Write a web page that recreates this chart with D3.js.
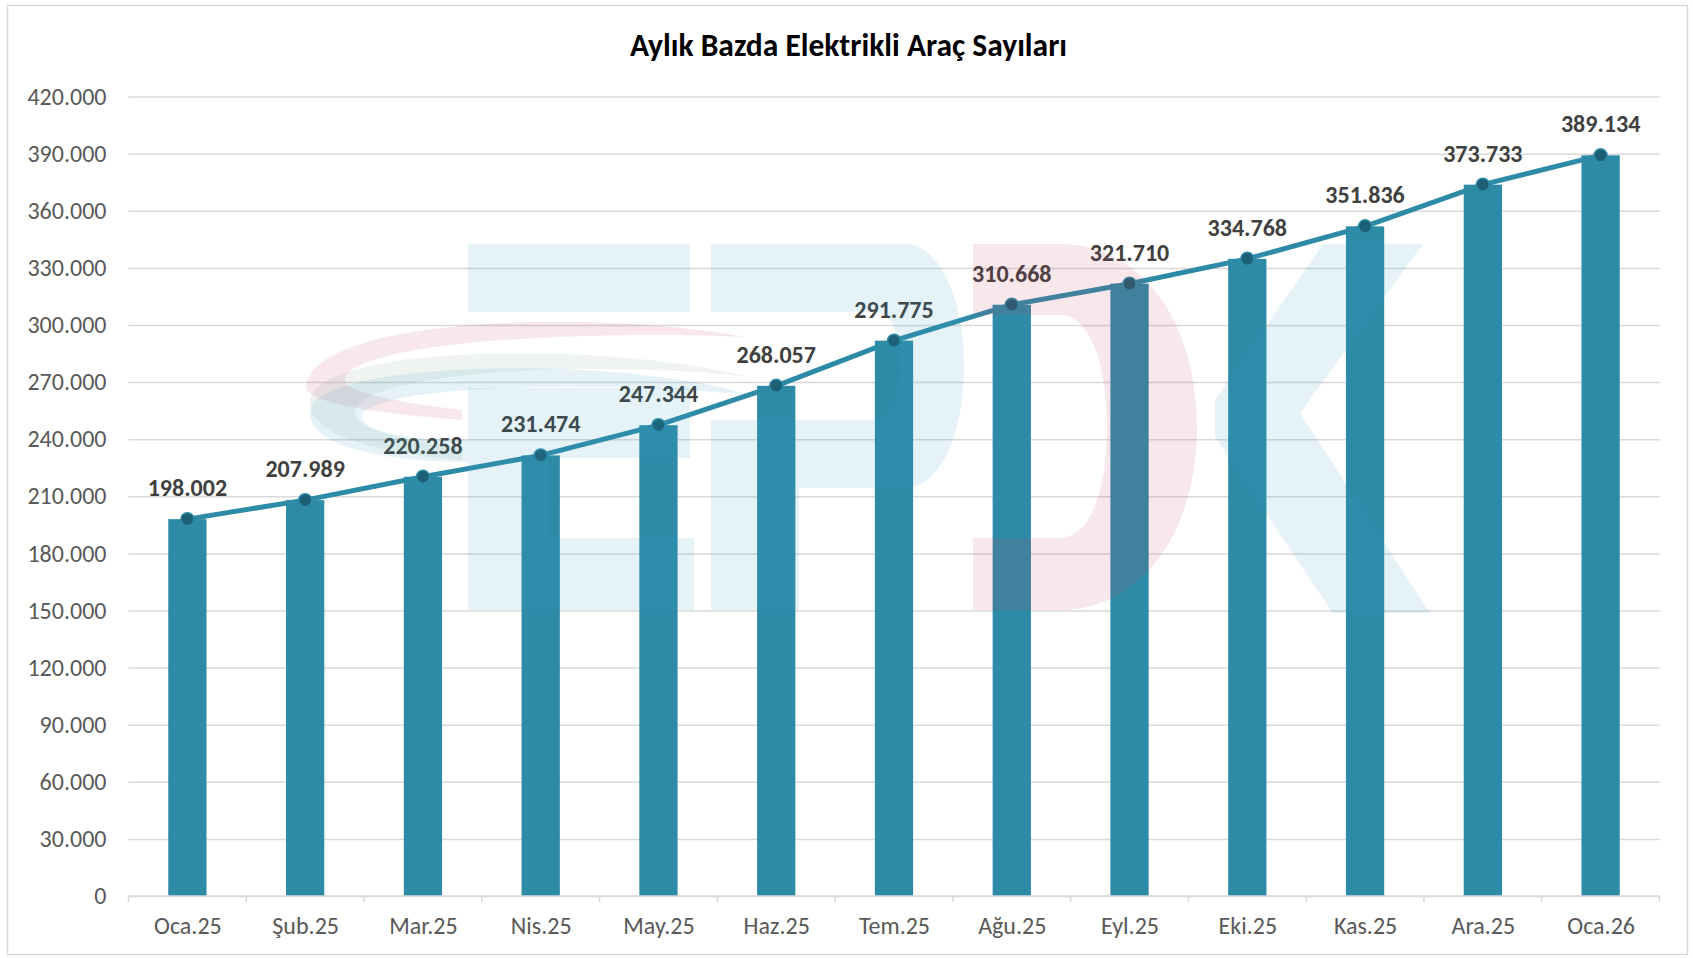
<!DOCTYPE html>
<html>
<head>
<meta charset="utf-8">
<style>
  body { margin: 0; background: #fff; font-family: Carlito, "Open Sans", sans-serif; }
  .grid line { stroke: #d9d9d9; stroke-width: 1.5px; }
  .grid path { display: none; }
  .axis--y path, .axis--y line { display: none; }
  .axis--y text { fill: #595959; font-size: 24px; font-family: Carlito, "Open Sans", sans-serif; }
  .axis--x path, .axis--x line { stroke: #d9d9d9; stroke-width: 1.5px; }
  .axis--x text { fill: #595959; font-size: 24px; font-family: Carlito, "Open Sans", sans-serif; }
  .bar { fill: #2e8ba7; }
  .line { fill: none; stroke: #2e8ba7; stroke-width: 5px; }
  .dot { fill: #1d5f74; stroke: #2e8ba7; stroke-width: 1.5px; }
  .label { fill: #404040; font-size: 24px; font-weight: bold; text-anchor: middle; }
</style>
</head>
<body>
<script src="https://d3js.org/d3.v7.min.js"></script>
<script>

var months = ["Oca.25", "Şub.25", "Mar.25", "Nis.25", "May.25", "Haz.25", "Tem.25",
              "Ağu.25", "Eyl.25", "Eki.25", "Kas.25", "Ara.25", "Oca.26"];
var counts = [198002, 207989, 220258, 231474, 247344, 268057, 291775,
              310668, 321710, 334768, 351836, 373733, 389134];
var yTicks = [0, 30000, 60000, 90000, 120000, 150000, 180000, 210000,
              240000, 270000, 300000, 330000, 360000, 390000, 420000];

var W = 1693, H = 958;
var margin = {top: 96.6, right: 33.5, bottom: 62, left: 128.5},
    width = W - margin.left - margin.right,
    height = H - margin.top - margin.bottom;

// Turkish thousands separator
var fmt = function(v) { return v === 0 ? "0" : d3.format(",")(v).replace(/,/g, "."); };

var svg = d3.select("body").append("svg")
    .attr("width", W)
    .attr("height", H);

// chart frame
svg.append("rect")
    .attr("x", 7.5).attr("y", 5.5)
    .attr("width", W - 13).attr("height", H - 9)
    .attr("fill", "#fff")
    .attr("stroke", "#d9d9d9")
    .attr("stroke-width", 1.5);

svg.append("text")
    .attr("x", 848.5).attr("y", 56)
    .attr("text-anchor", "middle")
    .style("font-size", "31.5px")
    .style("font-weight", "bold")
    .style("fill", "#000")
    .text("Aylık Bazda Elektrikli Araç Sayıları");

var g = svg.append("g")
    .attr("transform", "translate(" + margin.left + "," + margin.top + ")");

var x = d3.scaleBand().domain(months).range([0, width]).paddingInner(0.675).paddingOuter(0.3375);
var xc = d3.scalePoint().domain(months).range([0, width]).padding(0.5);
var y = d3.scaleLinear().domain([0, 420000]).range([height, 0]);

// gridlines
g.append("g")
    .attr("class", "grid")
    .call(d3.axisLeft(y).tickValues(yTicks).tickSize(-width).tickFormat(""));

// y axis
g.append("g")
    .attr("class", "axis--y")
    .call(d3.axisLeft(y).tickValues(yTicks).tickSize(0).tickPadding(22).tickFormat(fmt));

// bars
g.selectAll(".bar")
    .data(counts)
    .enter().append("rect")
    .attr("class", "bar")
    .attr("x", function(d, i) { return x(months[i]); })
    .attr("width", x.bandwidth())
    .attr("y", function(d) { return y(d); })
    .attr("height", function(d) { return height - y(d); });

// x axis with ticks on category boundaries
var xAxis = g.append("g")
    .attr("class", "axis--x")
    .attr("transform", "translate(0," + height + ")")
    .call(d3.axisBottom(xc).tickSize(0).tickPadding(21));
xAxis.select(".domain").attr("d", "M0,0H" + width);
var step = width / months.length;
xAxis.selectAll(".bound")
    .data(d3.range(months.length + 1))
    .enter().append("line")
    .attr("class", "bound")
    .attr("x1", function(d) { return d * step; })
    .attr("x2", function(d) { return d * step; })
    .attr("y1", 0).attr("y2", 6);

// line + markers
var valueline = d3.line()
    .x(function(d, i) { return xc(months[i]); })
    .y(function(d) { return y(d); });

g.append("path")
    .datum(counts)
    .attr("class", "line")
    .attr("d", valueline);

g.selectAll(".dot")
    .data(counts)
    .enter().append("circle")
    .attr("class", "dot")
    .attr("r", 6.5)
    .attr("cx", function(d, i) { return xc(months[i]); })
    .attr("cy", function(d) { return y(d); });

g.selectAll(".label")
    .data(counts)
    .enter().append("text")
    .attr("class", "label")
    .attr("x", function(d, i) { return xc(months[i]); })
    .attr("y", function(d) { return y(d) - 23; })
    .text(fmt);

// faint logo watermark drawn over the plot
var wm = svg.append("g").attr("pointer-events", "none");
var blue = "rgba(40,160,200,0.12)", pink = "rgba(200,60,90,0.12)", green = "rgba(100,150,120,0.1)";
var logo = [
  [blue,  "M468,244H690V312H468Z M468,388H690V458H549V538H694V610H468Z"],
  [blue,  "M711,244H905C940,244 964,300 964,366C964,435 940,488 905,488H799V610H711V420H875C890,420 900,400 900,366C900,330 890,312 875,312H711Z"],
  [pink,  "M973,244H1060C1140,244 1197,320 1197,427C1197,534 1140,610 1060,610H973V538H1060C1090,538 1107,490 1107,427C1107,364 1090,315 1060,315H973Z"],
  [blue,  "M1323,244H1423L1300,413L1430,613H1333L1215,437V400Z"],
  [pink,  "M745,337C600,310 320,315 306,385C300,405 400,415 462,420V410C380,400 340,390 345,378C360,340 600,330 745,337Z"],
  [green, "M750,377C600,340 320,345 310,400C305,440 400,455 462,460V448C390,440 350,425 355,410C370,370 600,360 750,377Z"],
  [blue,  "M750,395C620,355 320,360 310,410C305,450 400,462 468,462V440C380,440 360,425 362,415C375,385 600,380 750,395Z"]
];
wm.selectAll("path")
    .data(logo)
    .enter().append("path")
    .attr("fill", function(d) { return d[0]; })
    .attr("d", function(d) { return d[1]; });

</script>
</body>
</html>
